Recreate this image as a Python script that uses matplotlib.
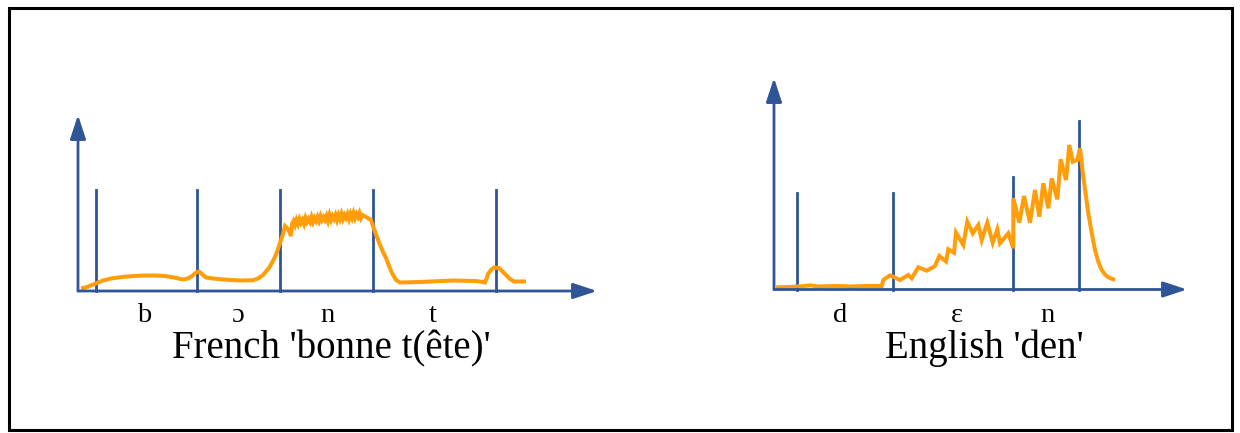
import matplotlib
matplotlib.use("Agg")
import matplotlib.pyplot as plt
from matplotlib.patches import Rectangle

# colours
BLUE = "#2F5597"
ORANGE = "#FF9E0A"

# French 'bonne t(ete)' -- local units: x = time, y = amplitude
fr_bounds = [18, 119, 202, 295, 418]
fr_bound_h = [101, 101, 101, 101, 101]
# rise through b / o
fr_x_onset = [3, 9, 14, 20, 25, 33, 42, 53, 64, 76, 87, 96, 105, 110, 114, 118, 121, 125, 128, 135,
              142, 153, 164, 175, 180, 185, 191, 196, 199, 202, 205, 207, 210, 213, 214]
fr_y_onset = [2.5, 4, 6, 8.5, 10.5, 12.5, 13.8, 14.8, 15.4, 15.5, 15, 13.5, 11.5, 12.5, 15, 18.5, 19.5,
              16, 13.5, 12.5, 11.8, 11, 10.5, 10.8, 12.5, 16, 23, 32, 39, 48, 57, 65, 62, 55, 67]
# noisy nasal plateau
fr_x_nasal = [215.5, 217, 218.5, 220, 221.5, 223, 224.5, 226, 227.5, 229,
              230.5, 232, 233.5, 235, 236.5, 238, 239.5, 241, 242.5, 244,
              245.5, 247, 248.5, 250, 251.5, 253, 254.5, 256, 257.5, 259,
              260.5, 262, 263.5, 265, 266.5, 268, 269.5, 271, 272.5, 274,
              275.5, 277, 278.5, 280, 281.5, 283, 284.5]
fr_y_nasal = [70, 66, 71, 67, 72, 68, 71, 67, 73, 69,
              72, 69, 74, 69, 73, 70, 74, 70, 75, 71,
              74, 71, 75, 70, 76, 71, 75, 72, 76, 71,
              76, 72, 77, 72, 76, 73, 77, 72, 77, 73,
              78, 73, 77, 74, 78, 73, 76]
# fall into t and release
fr_x_tail = [288, 293, 296, 299, 302, 305, 308, 311, 314, 318, 322, 342, 375, 397, 405, 407, 408.5,
             410, 413, 416, 421, 426, 432, 436, 448]
fr_y_tail = [74, 71, 62, 54, 46, 39, 33, 25, 18, 11, 8.5, 9, 10.5, 10, 9, 8.5, 12,
             17, 21, 23.5, 23, 18, 12, 9.5, 9.5]
fr_labels = ["b", "ɔ", "n", "t"]
fr_label_x = [66, 159, 249, 355]

# English 'den'
en_bounds = [23, 119, 239, 305]
en_bound_h = [97, 97, 113, 169]
en_x = [2, 16, 31, 36, 44, 61, 76, 91, 107.7, 109.3, 116, 126, 134.3, 137.7, 144.3, 152.7, 158.7,
        161, 165.3, 172, 174.3, 180, 182, 189.3, 193.3, 198.7, 204.3, 207.7, 213.3, 218.7, 223.3,
        226, 234.3, 239.3, 239.3, 245.3, 250, 256, 261, 265.3, 269.3, 274.3, 277.7, 283.3, 286.7,
        292, 295.3, 298.7, 303.3, 306, 309.3, 314.3, 318, 321, 324.5, 327.7, 331, 334.3, 341]
en_y = [2.2, 2.5, 3.5, 4.2, 3, 3.5, 3, 3.5, 3.5, 9.5, 14.2, 9.5, 14.5, 11.2, 22.2, 18.8, 22.2,
        23.5, 33.5, 28, 40.2, 36.8, 56.8, 44.5, 67.8, 56.2, 64.5, 49.5, 66.8, 46.8, 60.2,
        46.2, 56.2, 41.2, 91.2, 66.8, 93.5, 66.8, 99.5, 72.8, 106.2, 81.2, 111.2, 90.2, 130.2,
        109.5, 144.5, 127.8, 129.5, 141.2, 112.8, 76.2, 55, 39.5, 27, 19.5, 15, 12.2, 9.5]
en_labels = ["d", "ɛ", "n"]
en_label_x = [66, 183, 273]

fr_x = fr_x_onset + fr_x_nasal + fr_x_tail
fr_y = fr_y_onset + fr_y_nasal + fr_y_tail

W, H = 1240, 433
fig = plt.figure(figsize=(12.4, 4.33), dpi=100)
fig.patch.set_facecolor("white")
fig.patches.append(Rectangle((8.5 / W, 3 / H), 1223 / W, 422 / H, transform=fig.transFigure,
                             fill=False, edgecolor="black", linewidth=2.2))

serif = ["Liberation Serif", "DejaVu Serif"]


def panel(ox, oy, xt, yt, bounds, bh, cx, cy, labels, lx, lab_y, title, tx, ty):
    # axes with 1 data unit = 1 pixel, origin at (ox, oy) in image pixels
    ax = fig.add_axes([ox / W, (H - oy) / H, xt / W, yt / H])
    ax.set_xlim(0, xt)
    ax.set_ylim(0, yt)
    ax.axis("off")
    for b, h in zip(bounds, bh):
        ax.plot([b, b], [0, h], color=BLUE, lw=2.0, clip_on=False, zorder=2)
    ax.plot(cx, cy, color=ORANGE, lw=2.9, clip_on=False, zorder=3,
            solid_joinstyle="miter", solid_capstyle="butt")
    arr = dict(arrowstyle="-|>,head_length=1.0,head_width=0.33", color=BLUE, lw=2.0,
               mutation_scale=14.5, shrinkA=0, shrinkB=0)
    ax.annotate("", xy=(xt, 0), xytext=(0, 0), arrowprops=arr, annotation_clip=False, zorder=4)
    ax.annotate("", xy=(0, yt), xytext=(0, 0), arrowprops=arr, annotation_clip=False, zorder=4)
    for s, x in zip(labels, lx):
        ax.text(x, lab_y, s, ha="center", va="baseline", fontsize=20.5, family=serif, clip_on=False)
    ax.text(tx, ty, title, ha="center", va="baseline", fontsize=28, family=serif, clip_on=False)


panel(78, 291, 519, 176, fr_bounds, fr_bound_h, fr_x, fr_y, fr_labels, fr_label_x, -30.7,
      "French 'bonne t(ête)'", 253, -67)
panel(774, 289.5, 413, 211.5, en_bounds, en_bound_h, en_x, en_y, en_labels, en_label_x, -32.2,
      "English 'den'", 210, -68.5)

fig.savefig("out.png", dpi=100, facecolor="white")
